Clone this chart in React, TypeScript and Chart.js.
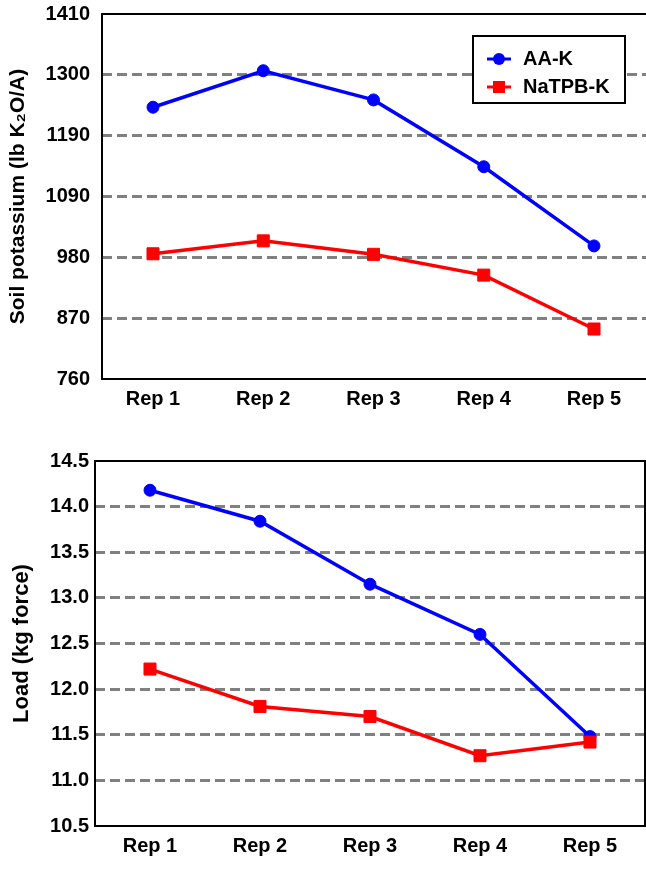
import React, { useEffect, useRef } from "react";
import { Chart, registerables } from "chart.js";

Chart.register(...registerables);

// ---------- Data ----------
const categories = ["Rep 1", "Rep 2", "Rep 3", "Rep 4", "Rep 5"];

const potassiumSeriesNames = ["AA-K", "NaTPB-K"];
const aaK = [1244, 1309, 1257, 1138, 997];
const natpbK = [983, 1006, 982, 945, 849];
const potassiumTickLabels = ["760", "870", "980", "1090", "1190", "1300", "1410"];
const potassiumAxisTitle = "Soil potassium (lb K\u2082O/A)";

const loadSeriesNames = ["Physiological Maturity", "Harvest"];
const physiologicalMaturity = [14.18, 13.84, 13.15, 12.6, 11.48];
const harvest = [12.22, 11.81, 11.7, 11.27, 11.42];
const loadTickLabels = ["10.5", "11.0", "11.5", "12.0", "12.5", "13.0", "13.5", "14.0", "14.5"];
const loadAxisTitle = "Load (kg force)";

// ---------- Styling ----------
const FONT_FAMILY = "'Liberation Sans', Arial, Helvetica, sans-serif";
const BLUE = "#0000FF";
const RED = "#FF0000";
const GRID = "#808080";

function wrapText(ctx: CanvasRenderingContext2D, text: string, maxWidth: number): string[] {
  const words = text.split(" ");
  const lines: string[] = [];
  let cur = "";
  for (const w of words) {
    const test = cur ? cur + " " + w : w;
    if (cur && ctx.measureText(test).width > maxWidth) {
      lines.push(cur);
      cur = w;
    } else {
      cur = test;
    }
  }
  if (cur) lines.push(cur);
  return lines;
}

const framePlugin = {
  id: "frame",
  beforeDatasetsDraw(chart: any, _args: any, opts: any) {
    const { ctx, chartArea } = chart;
    const { left, right, top, bottom } = chartArea;
    ctx.save();
    ctx.strokeStyle = "#000";
    ctx.lineWidth = opts.width ?? 2;
    ctx.lineCap = "square";
    ctx.beginPath();
    ctx.moveTo(right, top);
    ctx.lineTo(left, top);
    ctx.lineTo(left, bottom);
    ctx.lineTo(right, bottom);
    if (opts.right) ctx.lineTo(right, top);
    ctx.stroke();
    ctx.restore();
  },
};

const boxLegendPlugin = {
  id: "boxLegend",
  afterDraw(chart: any, _args: any, opts: any) {
    if (!opts || !opts.box) return;
    const { ctx } = chart;
    const { box, symbolLeft, symbolRight, textLeft, firstRowY, lineHeight, itemGap, maxTextWidth, font } = opts;
    ctx.save();
    ctx.fillStyle = "#fff";
    ctx.fillRect(box.x, box.y, box.w, box.h);
    ctx.lineWidth = 2;
    ctx.strokeStyle = "#000";
    ctx.strokeRect(box.x, box.y, box.w, box.h);
    ctx.font = font;
    ctx.textBaseline = "middle";
    ctx.textAlign = "left";
    let y = firstRowY;
    chart.data.datasets.forEach((ds: any) => {
      const lines = wrapText(ctx, ds.label, maxTextWidth);
      ctx.strokeStyle = ds.borderColor;
      ctx.lineWidth = 3;
      ctx.beginPath();
      ctx.moveTo(symbolLeft, y);
      ctx.lineTo(symbolRight, y);
      ctx.stroke();
      const cx = (symbolLeft + symbolRight) / 2;
      ctx.fillStyle = ds.pointBackgroundColor;
      if (ds.pointStyle === "rect") {
        const s = opts.squareSize;
        ctx.fillRect(cx - s / 2, y - s / 2, s, s);
      } else {
        ctx.beginPath();
        ctx.arc(cx, y, opts.circleRadius, 0, Math.PI * 2);
        ctx.fill();
      }
      ctx.fillStyle = "#000";
      lines.forEach((ln, j) => ctx.fillText(ln, textLeft, y + j * lineHeight));
      y += (lines.length - 1) * lineHeight + itemGap;
    });
    ctx.restore();
  },
};

type ChartSpec = {
  seriesNames: string[];
  seriesValues: number[][];
  tickLabels: string[];
  axisTitle: string;
  titleFontSize: number;
  titlePadTop: number;
  yTickPad: number;
  yAxisWidth: number;
  xAxisHeight: number;
  padTop: number;
  padRight: number;
  xMin: number;
  xMax: number;
  frameRight: boolean;
  legend: any;
};

function buildConfig(spec: ChartSpec): any {
  const yMin = Number(spec.tickLabels[0]);
  const yMax = Number(spec.tickLabels[spec.tickLabels.length - 1]);
  const nT = spec.tickLabels.length;
  const colors = [BLUE, RED];
  const styles = ["circle", "rect"];
  const radii = [6, 8.5];
  const tickFont = { family: FONT_FAMILY, size: 20, weight: "bold" as const };
  return {
    type: "line",
    data: {
      datasets: spec.seriesNames.map((name, si) => ({
        label: name,
        data: spec.seriesValues[si].map((v, i) => ({ x: i + 1, y: v })),
        borderColor: colors[si],
        backgroundColor: colors[si],
        pointBackgroundColor: colors[si],
        pointBorderColor: colors[si],
        pointStyle: styles[si],
        pointRadius: radii[si],
        pointBorderWidth: 1,
        borderWidth: 3.5,
        tension: 0,
        fill: false,
        clip: false,
        order: si === 0 ? 1 : 0,
      })),
    },
    options: {
      responsive: false,
      animation: false,
      devicePixelRatio: 1,
      layout: {
        autoPadding: false,
        padding: { top: spec.padTop, right: spec.padRight, left: 0, bottom: 0 },
      },
      plugins: {
        legend: { display: false },
        tooltip: { enabled: false },
        frame: { right: spec.frameRight, width: 2 },
        boxLegend: spec.legend,
      },
      scales: {
        x: {
          type: "linear",
          min: spec.xMin,
          max: spec.xMax,
          grid: { display: false, drawTicks: false },
          border: { display: false },
          afterBuildTicks: (scale: any) => {
            scale.ticks = categories.map((_, i) => ({ value: i + 1 }));
          },
          afterFit: (scale: any) => {
            scale.height = spec.xAxisHeight;
            scale.paddingLeft = 0;
            scale.paddingRight = 0;
          },
          ticks: {
            padding: 8,
            color: "#000",
            font: tickFont,
            maxRotation: 0,
            autoSkip: false,
            callback: (v: any) => categories[Math.round(Number(v)) - 1] ?? "",
          },
        },
        y: {
          type: "linear",
          min: yMin,
          max: yMax,
          afterBuildTicks: (scale: any) => {
            scale.ticks = spec.tickLabels.map((_, i) => ({ value: yMin + (i * (yMax - yMin)) / (nT - 1) }));
          },
          afterFit: (scale: any) => {
            scale.width = spec.yAxisWidth;
            scale.paddingTop = 0;
            scale.paddingBottom = 0;
          },
          grid: {
            drawTicks: false,
            lineWidth: 3,
            color: (ctx: any) => (ctx.index === 0 || ctx.index === nT - 1 ? "rgba(0,0,0,0)" : GRID),
          },
          border: { display: false, dash: [10, 5] },
          ticks: {
            padding: spec.yTickPad,
            color: "#000",
            font: tickFont,
            autoSkip: false,
            callback: (_v: any, i: number) => spec.tickLabels[i],
          },
          title: {
            display: true,
            text: spec.axisTitle,
            color: "#000",
            font: { family: FONT_FAMILY, size: spec.titleFontSize, weight: "bold" },
            padding: { top: spec.titlePadTop, bottom: 0 },
          },
        },
      },
    },
    plugins: [framePlugin, boxLegendPlugin],
  };
}

const topSpec: ChartSpec = {
  seriesNames: potassiumSeriesNames,
  seriesValues: [aaK, natpbK],
  tickLabels: potassiumTickLabels,
  axisTitle: potassiumAxisTitle,
  titleFontSize: 21,
  titlePadTop: 6,
  yTickPad: 12,
  yAxisWidth: 102,
  xAxisHeight: 51,
  padTop: 14,
  padRight: 0,
  xMin: 1 - 51 / 110.25,
  xMax: 5 + 52 / 110.25,
  frameRight: false,
  legend: {
    box: { x: 473, y: 36, w: 152, h: 67 },
    symbolLeft: 487,
    symbolRight: 511,
    textLeft: 523,
    firstRowY: 59,
    lineHeight: 27,
    itemGap: 28,
    maxTextWidth: 140,
    circleRadius: 6,
    squareSize: 12,
    font: `bold 20px ${FONT_FAMILY}`,
  },
};

const bottomSpec: ChartSpec = {
  seriesNames: loadSeriesNames,
  seriesValues: [physiologicalMaturity, harvest],
  tickLabels: loadTickLabels,
  axisTitle: loadAxisTitle,
  titleFontSize: 22,
  titlePadTop: 9,
  yTickPad: 6,
  yAxisWidth: 95,
  xAxisHeight: 62,
  padTop: 21,
  padRight: 1,
  xMin: 0.5,
  xMax: 5.5,
  frameRight: true,
  legend: {
    box: { x: 446, y: 477, w: 187, h: 93 },
    symbolLeft: 453,
    symbolRight: 477,
    textLeft: 486,
    firstRowY: 495,
    lineHeight: 26.7,
    itemGap: 32.3,
    maxTextWidth: 140,
    circleRadius: 6,
    squareSize: 12,
    font: `bold 20px ${FONT_FAMILY}`,
  },
};

function ChartCanvas({ spec, top, height }: { spec: ChartSpec; top: number; height: number }) {
  const ref = useRef<HTMLCanvasElement | null>(null);
  useEffect(() => {
    if (!ref.current) return;
    const chart = new Chart(ref.current, buildConfig(spec));
    return () => chart.destroy();
  }, [spec]);
  return (
    <canvas
      ref={ref}
      width={646}
      height={height}
      style={{ position: "absolute", left: 0, top, width: 646, height, display: "block" }}
    />
  );
}

export default function App() {
  return (
    <div
      style={{
        position: "absolute",
        left: 0,
        top: 0,
        width: 646,
        height: 888,
        overflow: "hidden",
        background: "#fff",
      }}
    >
      <ChartCanvas spec={topSpec} top={0} height={430} />
      <ChartCanvas spec={bottomSpec} top={440} height={448} />
    </div>
  );
}
